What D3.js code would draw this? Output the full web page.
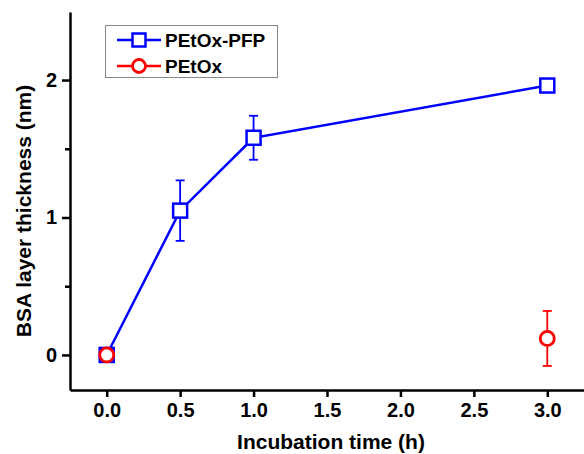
<!DOCTYPE html>
<html>
<head>
<meta charset="utf-8">
<script src="https://cdn.jsdelivr.net/npm/d3@7"></script>
<style>
  body { margin: 0; background: #fff; }
  text { font-family: Arial, "Liberation Sans", sans-serif; font-weight: bold; }
</style>
</head>
<body>
<svg id="chart" width="584" height="454"></svg>
<script>
// data
var pfpTime = [0, 0.5, 1.0, 3.0];
var pfpThick = [0, 1.05, 1.58, 1.96];
var pfpErr = [0, 0.22, 0.16, 0.02];

var petoxTime = [0, 3.0];
var petoxThick = [0, 0.12];
var petoxErr = [0, 0.2];

var xTicks = [0, 0.5, 1.0, 1.5, 2.0, 2.5, 3.0];
var yTicks = [0, 1, 2];
var yMinor = [0.5, 1.5];

var svg = d3.select('#chart');

var plotL = 70, plotR = 584, plotT = 12, plotB = 390;

var x = d3.scaleLinear().domain([-0.25, 3.25]).range([plotL, plotR]);
var y = d3.scaleLinear().domain([-0.255, 2.495]).range([plotB, plotT]);

// axes
var xAxis = svg.append('g')
  .attr('transform', 'translate(0,' + plotB + ')')
  .call(d3.axisBottom(x).tickValues(xTicks).tickFormat(d3.format('.1f'))
    .tickSize(7).tickPadding(6).tickSizeOuter(0));

var yAxis = svg.append('g')
  .attr('transform', 'translate(' + plotL + ',0)')
  .call(d3.axisLeft(y).tickValues(yTicks).tickFormat(d3.format('d'))
    .tickSize(8).tickPadding(5).tickSizeOuter(0));

svg.append('g')
  .attr('transform', 'translate(' + plotL + ',0)')
  .call(d3.axisLeft(y).tickValues(yMinor).tickFormat('').tickSize(5).tickSizeOuter(0))
  .select('.domain').remove();

[xAxis, yAxis].forEach(function(a) {
  a.select('.domain').attr('stroke', '#000').attr('stroke-width', 2.5);
  a.selectAll('.tick text').style('font-size', '20px').attr('fill', '#000');
});
svg.selectAll('.tick line').attr('stroke-width', 2.5);

// axis titles
svg.append('text')
  .attr('x', 331)
  .attr('y', 449)
  .attr('text-anchor', 'middle')
  .style('font-size', '21px')
  .text('Incubation time (h)');

svg.append('text')
  .attr('transform', 'translate(31,211) rotate(-90)')
  .attr('text-anchor', 'middle')
  .style('font-size', '21px')
  .text('BSA layer thickness (nm)');

var line = d3.line()
  .x(function(d) { return x(d[0]); })
  .y(function(d) { return y(d[1]); });

function drawSeries(times, vals, errs, color, shape) {
  var pts = times.map(function(t, i) { return [t, vals[i], errs[i]]; });
  var g = svg.append('g');

  if (shape === 'square') {
    g.append('path')
      .datum(pts)
      .attr('d', line)
      .attr('fill', 'none')
      .attr('stroke', color)
      .attr('stroke-width', 2.5);
  }

  var eb = g.selectAll('.eb')
    .data(pts.filter(function(d) { return d[2] > 0.03; }))
    .enter().append('g');

  eb.append('line')
    .attr('x1', function(d) { return x(d[0]); })
    .attr('x2', function(d) { return x(d[0]); })
    .attr('y1', function(d) { return y(d[1] - d[2]); })
    .attr('y2', function(d) { return y(d[1] + d[2]); })
    .attr('stroke', color).attr('stroke-width', 1.8);

  [-1, 1].forEach(function(s) {
    eb.append('line')
      .attr('x1', function(d) { return x(d[0]) - 4.5; })
      .attr('x2', function(d) { return x(d[0]) + 4.5; })
      .attr('y1', function(d) { return y(d[1] + s * d[2]); })
      .attr('y2', function(d) { return y(d[1] + s * d[2]); })
      .attr('stroke', color).attr('stroke-width', 1.8);
  });

  if (shape === 'square') {
    g.selectAll('rect')
      .data(pts)
      .enter().append('rect')
        .attr('x', function(d) { return x(d[0]) - 7; })
        .attr('y', function(d) { return y(d[1]) - 7; })
        .attr('width', 14)
        .attr('height', 14)
        .attr('fill', '#fff')
        .attr('stroke', color)
        .attr('stroke-width', 2.5);
  } else {
    g.selectAll('circle')
      .data(pts)
      .enter().append('circle')
        .attr('cx', function(d) { return x(d[0]); })
        .attr('cy', function(d) { return y(d[1]); })
        .attr('r', 7)
        .attr('fill', '#fff')
        .attr('stroke', color)
        .attr('stroke-width', 2.8);
  }
}

drawSeries(pfpTime, pfpThick, pfpErr, '#0000ff', 'square');
drawSeries(petoxTime, petoxThick, petoxErr, '#ff0000', 'circle');

// legend
var legend = svg.append('g');
legend.append('rect')
  .attr('x', 105.5).attr('y', 25.5)
  .attr('width', 172).attr('height', 52)
  .attr('fill', '#fff')
  .attr('stroke', '#888').attr('stroke-width', 1);

var legItems = [
  { name: 'PEtOx-PFP', color: '#0000ff', shape: 'square' },
  { name: 'PEtOx', color: '#ff0000', shape: 'circle' }
];

legItems.forEach(function(it, i) {
  var cy = 40 + i * 26;
  legend.append('line')
    .attr('x1', 117).attr('x2', 161)
    .attr('y1', cy).attr('y2', cy)
    .attr('stroke', it.color).attr('stroke-width', 2.5);
  if (it.shape === 'square') {
    legend.append('rect')
      .attr('x', 139 - 6.5).attr('y', cy - 6.5)
      .attr('width', 13).attr('height', 13)
      .attr('fill', '#fff').attr('stroke', it.color).attr('stroke-width', 2.5);
  } else {
    legend.append('circle')
      .attr('cx', 139).attr('cy', cy).attr('r', 6.5)
      .attr('fill', '#fff').attr('stroke', it.color).attr('stroke-width', 2.8);
  }
  legend.append('text')
    .attr('x', 165).attr('y', cy + 7)
    .style('font-size', '19px')
    .text(it.name);
});
</script>
</body>
</html>
